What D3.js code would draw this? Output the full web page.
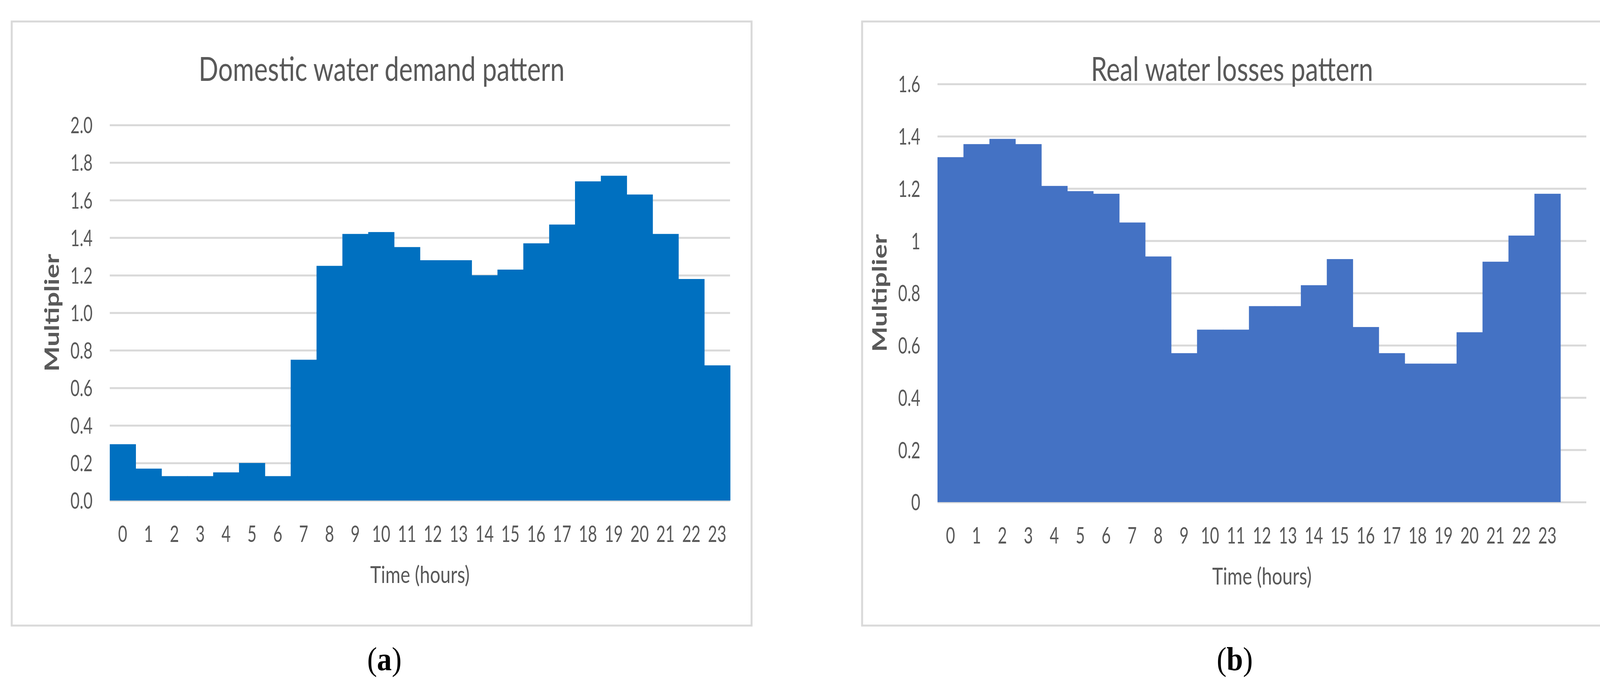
<!doctype html>
<html>

<head>
    <meta charset="utf-8">
    <title>Water demand and losses patterns</title>
    <script type="text/javascript" src="https://cdn.jsdelivr.net/npm/d3@7/dist/d3.min.js"></script>
    <style type="text/css">
        html,
        body {
            margin: 0;
            padding: 0;
            background: #fff;
        }

        #chart svg {
            display: block;
        }
    </style>
</head>

<body>
    <div id="chart"></div>

    <script type="text/javascript">
        // ---- data ----
        var hours = [0, 1, 2, 3, 4, 5, 6, 7, 8, 9, 10, 11, 12, 13, 14, 15, 16, 17, 18, 19, 20, 21, 22, 23]

        var domesticDemand = [0.30, 0.17, 0.13, 0.13, 0.15, 0.20, 0.13, 0.75, 1.25, 1.42, 1.43, 1.35,
            1.28, 1.28, 1.20, 1.23, 1.37, 1.47, 1.70, 1.73, 1.63, 1.42, 1.18, 0.72]

        var realLosses = [1.32, 1.37, 1.39, 1.37, 1.21, 1.19, 1.18, 1.07, 0.94, 0.57, 0.66, 0.66,
            0.75, 0.75, 0.83, 0.93, 0.67, 0.57, 0.53, 0.53, 0.65, 0.92, 1.02, 1.18]

        var demandTicks = [0, 0.2, 0.4, 0.6, 0.8, 1.0, 1.2, 1.4, 1.6, 1.8, 2.0]
        var lossTicks = [0, 0.2, 0.4, 0.6, 0.8, 1.0, 1.2, 1.4, 1.6]

        // ---- look ----
        // text in the source picture is squeezed sideways
        var SX_TICK = 0.70
        var SX_TITLE = 0.77
        var SX_YLAB = 0.74
        var textGrey = "#595959"
        var gridGrey = "#d9d9d9"
        var font = "Lato, 'Open Sans', sans-serif"

        var svg = d3.select("#chart")
            .append("svg")
            .attr("width", 4142)
            .attr("height", 1771)

        svg.append("rect")
            .attr("width", 4142)
            .attr("height", 1771)
            .attr("fill", "#fff")

        function drawPanel(p) {
            var W = p.plot.x1 - p.plot.x0
            var H = p.plot.y1 - p.plot.y0

            // panel frame
            svg.append("rect")
                .attr("x", p.frame.x0)
                .attr("y", p.frame.y0)
                .attr("width", p.frame.x1 - p.frame.x0)
                .attr("height", p.frame.y1 - p.frame.y0)
                .attr("fill", "none")
                .attr("stroke", gridGrey)
                .attr("stroke-width", 5)

            var g = svg.append("g")
                .attr("transform", "translate(" + p.plot.x0 + "," + p.plot.y0 + ")")

            var x = d3.scaleBand()
                .domain(p.categories)
                .range([0, W * p.categories.length / p.slots])
                .padding(0)

            var y = d3.scaleLinear()
                .domain([0, d3.max(p.ticks)])
                .range([H, 0])

            // y axis + gridlines
            var yAxis = g.append("g")
                .call(d3.axisLeft(y)
                    .tickValues(p.ticks)
                    .tickSize(-W)
                    .tickFormat(p.format))

            yAxis.select(".domain").remove()
            yAxis.selectAll(".tick line")
                .attr("stroke", gridGrey)
                .attr("stroke-width", 5)
            yAxis.selectAll(".tick text")
                .attr("x", -44 / SX_TICK)
                .attr("dy", "0.36em")
                .attr("transform", "scale(" + SX_TICK + ",1)")
                .style("font-family", font)
                .style("font-size", "58px")
                .attr("fill", textGrey)

            // bars (drawn over the grid)
            g.append("g")
                .selectAll("rect")
                .data(p.values)
                .join("rect")
                .attr("x", function (d, i) { return x(p.categories[i]) })
                .attr("y", function (d) { return y(d) })
                .attr("width", x.bandwidth() + 0.8)
                .attr("height", function (d) { return H - y(d) })
                .attr("fill", p.color)

            // x axis labels
            var xAxis = g.append("g")
                .attr("transform", "translate(0," + H + ")")
                .call(d3.axisBottom(x).tickSize(0))

            xAxis.select(".domain").remove()
            xAxis.selectAll(".tick text")
                .attr("y", 106)
                .attr("dy", "0")
                .attr("transform", "scale(" + SX_TICK + ",1)")
                .style("font-family", font)
                .style("font-size", "58px")
                .attr("fill", textGrey)

            // chart title
            svg.append("text")
                .attr("transform", "translate(" + ((p.frame.x0 + p.frame.x1) / 2) + "," + (p.frame.y0 + 152) + ") scale(" + SX_TITLE + ",1)")
                .attr("text-anchor", "middle")
                .style("font-family", font)
                .style("font-size", "86px")
                .attr("fill", textGrey)
                .text(p.title)

            // x axis title
            g.append("text")
                .attr("transform", "translate(" + (W / 2) + "," + (H + 211) + ") scale(" + SX_TITLE + ",1)")
                .attr("text-anchor", "middle")
                .style("font-family", font)
                .style("font-size", "61px")
                .attr("fill", textGrey)
                .text("Time (hours)")

            // y axis title
            g.append("text")
                .attr("transform", "translate(" + (-148) + "," + (H / 2) + ") scale(" + SX_YLAB + ",1) rotate(-90)")
                .attr("text-anchor", "middle")
                .attr("dy", "0.35em")
                .style("font-family", font)
                .style("font-size", "69px")
                .style("font-weight", "bold")
                .attr("fill", textGrey)
                .text("Multiplier")

            // caption (a) / (b)
            var cap = svg.append("text")
                .attr("transform", "translate(" + p.captionX + ",1715) scale(0.9,1)")
                .attr("text-anchor", "middle")
                .style("font-family", "'Liberation Serif', 'DejaVu Serif', serif")
                .style("font-size", "84px")
                .attr("fill", "#000")
            cap.append("tspan").text("(")
            cap.append("tspan").style("font-weight", "bold").text(p.caption)
            cap.append("tspan").text(")")
        }

        drawPanel({
            frame: { x0: 30, x1: 1924, y0: 55, y1: 1601 },
            plot: { x0: 281, x1: 1869, y0: 320, y1: 1281 },
            slots: 24,
            categories: hours,
            values: domesticDemand,
            ticks: demandTicks,
            format: d3.format(".1f"),
            color: "#0070c0",
            title: "Domestic water demand pattern",
            caption: "a",
            captionX: 984
        })

        drawPanel({
            frame: { x0: 2207, x1: 4101, y0: 55, y1: 1601 },
            plot: { x0: 2400, x1: 4061, y0: 215, y1: 1285 },
            slots: 25,
            categories: hours,
            values: realLosses,
            ticks: lossTicks,
            format: function (d) { return String(+d.toFixed(1)) },
            color: "#4472c4",
            title: "Real water losses pattern",
            caption: "b",
            captionX: 3161
        })
    </script>
</body>

</html>
